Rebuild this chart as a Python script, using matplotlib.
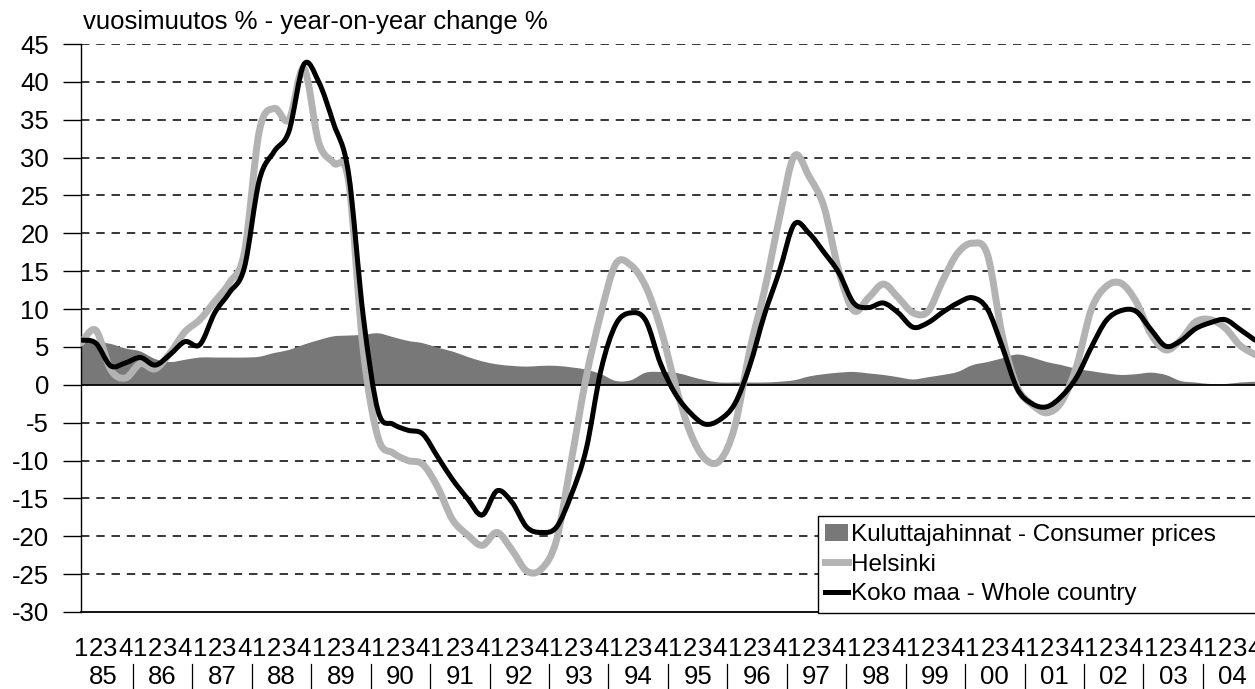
import numpy as np
import matplotlib
matplotlib.use("Agg")
import matplotlib.pyplot as plt
from matplotlib.path import Path
from matplotlib.patches import PathPatch, Patch
from matplotlib.lines import Line2D
from matplotlib.transforms import blended_transform_factory

plt.rcParams['font.family'] = ['Liberation Sans', 'DejaVu Sans']
plt.rcParams['axes.unicode_minus'] = False

# quarterly data 1985Q1 - 2004Q4
years = ['85', '86', '87', '88', '89', '90', '91', '92', '93', '94',
         '95', '96', '97', '98', '99', '00', '01', '02', '03', '04']
quarters = ['1', '2', '3', '4']

consumer_prices = [5.9, 5.7, 5.4, 4.8, 4.4, 3.4, 3.0, 3.3, 3.6, 3.6,
                   3.6, 3.6, 3.7, 4.2, 4.6, 5.3, 5.9, 6.4, 6.5, 6.6,
                   6.8, 6.3, 5.8, 5.5, 4.9, 4.4, 3.7, 3.1, 2.7, 2.5,
                   2.4, 2.5, 2.5, 2.3, 2.0, 1.4, 0.5, 0.6, 1.6, 1.7,
                   1.6, 1.1, 0.6, 0.3, 0.3, 0.3, 0.3, 0.4, 0.6, 1.1,
                   1.4, 1.6, 1.7, 1.5, 1.3, 1.0, 0.7, 1.0, 1.3, 1.7,
                   2.6, 3.0, 3.5, 4.0, 3.6, 3.0, 2.6, 2.1, 1.8, 1.5,
                   1.3, 1.4, 1.6, 1.3, 0.5, 0.3, 0.1, 0.1, 0.3, 0.4]

helsinki = [5.5, 7.2, 2.0, 0.9, 2.8, 2.1, 4.2, 7.0, 8.6, 11.0,
            13.5, 17.5, 33.5, 36.5, 35.0, 41.8, 32.0, 29.3, 27.0, 4.5,
            -7.0, -9.0, -10.0, -10.5, -13.5, -17.8, -19.8, -21.2, -19.5, -21.8,
            -24.6, -24.3, -20.5, -10.0, 1.0, 9.5, 16.0, 15.8, 13.0, 7.5,
            0.0, -6.3, -9.8, -10.0, -5.5, 4.5, 12.5, 22.0, 30.2, 27.5,
            23.5, 15.0, 9.8, 11.5, 13.3, 11.5, 9.5, 9.7, 13.8, 17.4,
            18.7, 17.2, 6.5, -0.3, -2.6, -3.7, -2.2, 2.5, 10.0, 13.0,
            13.4, 11.0, 6.7, 4.6, 5.9, 8.3, 8.6, 7.5, 5.2, 4.0]

whole_country = [5.9, 5.5, 2.5, 2.9, 3.6, 2.6, 4.0, 5.7, 5.3, 9.5,
                 12.2, 15.5, 27.0, 30.8, 33.5, 42.3, 40.0, 34.5, 28.0, 9.0,
                 -3.5, -5.2, -6.0, -6.5, -9.5, -12.5, -15.0, -17.2, -14.0, -15.5,
                 -18.8, -19.5, -18.8, -14.5, -8.5, 2.0, 8.0, 9.5, 8.5, 2.8,
                 -1.2, -3.7, -5.2, -4.6, -2.5, 2.5, 9.3, 15.0, 21.2, 20.0,
                 17.5, 14.8, 10.8, 10.2, 10.8, 9.5, 7.6, 8.2, 9.6, 10.8,
                 11.5, 10.0, 5.0, -0.5, -2.5, -2.9, -1.5, 1.0, 5.0, 8.5,
                 9.8, 9.7, 7.3, 5.1, 5.8, 7.4, 8.2, 8.6, 7.3, 5.9]

x = np.arange(len(whole_country))
FS = 18.5


def smooth_path(xs, ys):
    # Bezier smoothing through the points, like the spreadsheet's smoothed lines
    pts = np.column_stack([xs, ys]).astype(float)
    n = len(pts)
    verts = [pts[0]]
    codes = [Path.MOVETO]
    for i in range(n - 1):
        p0 = pts[i - 1] if i > 0 else pts[i]
        p1 = pts[i]
        p2 = pts[i + 1]
        p3 = pts[i + 2] if i + 2 < n else pts[i + 1]
        verts += [p1 + (p2 - p0) / 6, p2 - (p3 - p1) / 6, p2]
        codes += [Path.CURVE4] * 3
    return verts, codes


fig = plt.figure(figsize=(12.55, 6.89), dpi=100)
ax = fig.add_axes([0.0645, 0.1118, 0.939, 0.8243])

ax.set_xlim(0, 79.3)
ax.set_ylim(-30, 45)
ax.set_yticks(range(-30, 46, 5))

# grid lines
for yv in range(-25, 46, 5):
    if yv == 0:
        continue
    ax.axhline(yv, color='black', lw=1.1, dashes=(5.5, 4.5), zorder=1)
ax.axhline(0, color='black', lw=1.3, zorder=3)

# consumer prices area
verts, codes = smooth_path(x, consumer_prices)
verts += [(x[-1], 0), (x[0], 0), (x[0], 0)]
codes += [Path.LINETO, Path.LINETO, Path.CLOSEPOLY]
ax.add_patch(PathPatch(Path(verts, codes), facecolor='#787878',
                       edgecolor='none', zorder=2, transform=ax.transData))

# Helsinki and whole country lines
verts, codes = smooth_path(x, helsinki)
ax.add_patch(PathPatch(Path(verts, codes), facecolor='none', edgecolor='#b3b3b3',
                       lw=5.0, capstyle='round', joinstyle='round', zorder=4))
verts, codes = smooth_path(x, whole_country)
ax.add_patch(PathPatch(Path(verts, codes), facecolor='none', edgecolor='black',
                       lw=3.6, capstyle='round', joinstyle='round', zorder=5))

# axes styling
for s in ['top', 'right']:
    ax.spines[s].set_visible(False)
ax.spines['left'].set_linewidth(1.0)
ax.spines['bottom'].set_linewidth(1.3)
ax.tick_params(axis='y', length=13, width=1.0, pad=10, labelsize=FS)
ax.set_xticks(x)
ax.set_xticklabels(quarters * len(years))
ax.tick_params(axis='x', length=0, pad=18, labelsize=FS)

# year labels and separators
trans = blended_transform_factory(ax.transData, ax.transAxes)
for k, yr in enumerate(years):
    ax.text(4 * k + 1.5, -0.115, yr, transform=trans, ha='center', va='center',
            fontsize=FS, clip_on=False)
    if k > 0:
        ax.plot([4 * k - 0.5, 4 * k - 0.5], [-0.092, -0.14], transform=trans,
                color='black', lw=0.9, clip_on=False)

fig.text(83 / 1255, 1 - 22 / 689, 'vuosimuutos % - year-on-year change %',
         fontsize=FS, ha='left', va='center')

handles = [Patch(facecolor='#787878', edgecolor='none'),
           Line2D([], [], color='#b3b3b3', lw=5.0),
           Line2D([], [], color='black', lw=3.6)]
labels = ['Kuluttajahinnat - Consumer prices', 'Helsinki', 'Koko maa - Whole country']
leg = fig.legend(handles, labels, loc='upper left',
                 bbox_to_anchor=(818 / 1255, 0.1118, 0.40, 0.1386),
                 bbox_transform=fig.transFigure, mode='expand',
                 fontsize=17.5, handlelength=0.95, handletextpad=0.12,
                 borderpad=0.3, labelspacing=0.32, borderaxespad=0,
                 fancybox=False, framealpha=1, edgecolor='black')
leg.get_frame().set_linewidth(1.0)

fig.savefig('out.png', dpi=100)
